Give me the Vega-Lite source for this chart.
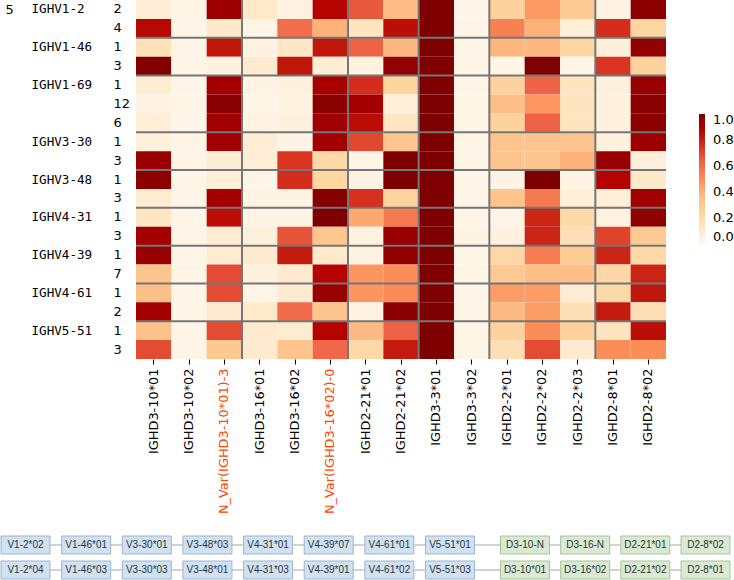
{
  "$schema": "https://vega.github.io/schema/vega-lite/v6.json",
  "width": 530,
  "height": 359,
  "autosize": "none",
  "padding": {"left": 136, "top": 0, "right": 68, "bottom": 221},
  "background": "white",
  "config": {"view": {"stroke": null}, "font": "DejaVu Sans"},
  "datasets": {
    "heat": [
      {"row": "IGHV1-2|2|1", "sep": false, "IGHD3-10*01": 0.08, "IGHD3-10*02": 0.02, "N_Var(IGHD3-10*01)-3": 0.93, "IGHD3-16*01": 0.12, "IGHD3-16*02": 0.04, "N_Var(IGHD3-16*02)-0": 0.87, "IGHD2-21*01": 0.66, "IGHD2-21*02": 0.37, "IGHD3-3*01": 1.0, "IGHD3-3*02": 0.01, "IGHD2-2*01": 0.26, "IGHD2-2*02": 0.47, "IGHD2-2*03": 0.3, "IGHD2-8*01": 0.03, "IGHD2-8*02": 0.97},
      {"row": "IGHV1-2|4|0", "sep": false, "IGHD3-10*01": 0.86, "IGHD3-10*02": 0.02, "N_Var(IGHD3-10*01)-3": 0.12, "IGHD3-16*01": 0.02, "IGHD3-16*02": 0.6, "N_Var(IGHD3-16*02)-0": 0.4, "IGHD2-21*01": 0.15, "IGHD2-21*02": 0.85, "IGHD3-3*01": 1.0, "IGHD3-3*02": 0.02, "IGHD2-2*01": 0.54, "IGHD2-2*02": 0.4, "IGHD2-2*03": 0.07, "IGHD2-8*01": 0.76, "IGHD2-8*02": 0.24},
      {"row": "IGHV1-46|1|1", "sep": true, "IGHD3-10*01": 0.17, "IGHD3-10*02": 0.02, "N_Var(IGHD3-10*01)-3": 0.83, "IGHD3-16*01": 0.04, "IGHD3-16*02": 0.13, "N_Var(IGHD3-16*02)-0": 0.83, "IGHD2-21*01": 0.63, "IGHD2-21*02": 0.39, "IGHD3-3*01": 1.0, "IGHD3-3*02": 0.02, "IGHD2-2*01": 0.39, "IGHD2-2*02": 0.39, "IGHD2-2*03": 0.24, "IGHD2-8*01": 0.07, "IGHD2-8*02": 0.95},
      {"row": "IGHV1-46|3|0", "sep": false, "IGHD3-10*01": 0.99, "IGHD3-10*02": 0.02, "N_Var(IGHD3-10*01)-3": 0.04, "IGHD3-16*01": 0.1, "IGHD3-16*02": 0.83, "N_Var(IGHD3-16*02)-0": 0.08, "IGHD2-21*01": 0.04, "IGHD2-21*02": 0.95, "IGHD3-3*01": 1.0, "IGHD3-3*02": 0.02, "IGHD2-2*01": 0.02, "IGHD2-2*02": 1.0, "IGHD2-2*03": 0.02, "IGHD2-8*01": 0.74, "IGHD2-8*02": 0.26},
      {"row": "IGHV1-69|1|1", "sep": true, "IGHD3-10*01": 0.09, "IGHD3-10*02": 0.02, "N_Var(IGHD3-10*01)-3": 0.91, "IGHD3-16*01": 0.03, "IGHD3-16*02": 0.05, "N_Var(IGHD3-16*02)-0": 0.9, "IGHD2-21*01": 0.76, "IGHD2-21*02": 0.25, "IGHD3-3*01": 1.0, "IGHD3-3*02": 0.02, "IGHD2-2*01": 0.26, "IGHD2-2*02": 0.63, "IGHD2-2*03": 0.15, "IGHD2-8*01": 0.05, "IGHD2-8*02": 0.94},
      {"row": "IGHV1-69|12|0", "sep": false, "IGHD3-10*01": 0.04, "IGHD3-10*02": 0.02, "N_Var(IGHD3-10*01)-3": 0.97, "IGHD3-16*01": 0.02, "IGHD3-16*02": 0.04, "N_Var(IGHD3-16*02)-0": 0.97, "IGHD2-21*01": 0.91, "IGHD2-21*02": 0.07, "IGHD3-3*01": 1.0, "IGHD3-3*02": 0.02, "IGHD2-2*01": 0.36, "IGHD2-2*02": 0.48, "IGHD2-2*03": 0.15, "IGHD2-8*01": 0.05, "IGHD2-8*02": 0.97},
      {"row": "IGHV1-69|6|0", "sep": false, "IGHD3-10*01": 0.08, "IGHD3-10*02": 0.02, "N_Var(IGHD3-10*01)-3": 0.92, "IGHD3-16*01": 0.03, "IGHD3-16*02": 0.05, "N_Var(IGHD3-16*02)-0": 0.92, "IGHD2-21*01": 0.85, "IGHD2-21*02": 0.14, "IGHD3-3*01": 1.0, "IGHD3-3*02": 0.02, "IGHD2-2*01": 0.26, "IGHD2-2*02": 0.63, "IGHD2-2*03": 0.15, "IGHD2-8*01": 0.05, "IGHD2-8*02": 0.97},
      {"row": "IGHV3-30|1|1", "sep": true, "IGHD3-10*01": 0.06, "IGHD3-10*02": 0.02, "N_Var(IGHD3-10*01)-3": 0.92, "IGHD3-16*01": 0.08, "IGHD3-16*02": 0.03, "N_Var(IGHD3-16*02)-0": 0.91, "IGHD2-21*01": 0.7, "IGHD2-21*02": 0.32, "IGHD3-3*01": 1.0, "IGHD3-3*02": 0.02, "IGHD2-2*01": 0.33, "IGHD2-2*02": 0.33, "IGHD2-2*03": 0.33, "IGHD2-8*01": 0.05, "IGHD2-8*02": 0.93},
      {"row": "IGHV3-30|3|0", "sep": false, "IGHD3-10*01": 0.94, "IGHD3-10*02": 0.02, "N_Var(IGHD3-10*01)-3": 0.08, "IGHD3-16*01": 0.08, "IGHD3-16*02": 0.74, "N_Var(IGHD3-16*02)-0": 0.22, "IGHD2-21*01": 0.02, "IGHD2-21*02": 1.0, "IGHD3-3*01": 1.0, "IGHD3-3*02": 0.02, "IGHD2-2*01": 0.33, "IGHD2-2*02": 0.33, "IGHD2-2*03": 0.4, "IGHD2-8*01": 0.94, "IGHD2-8*02": 0.06},
      {"row": "IGHV3-48|1|1", "sep": true, "IGHD3-10*01": 0.97, "IGHD3-10*02": 0.02, "N_Var(IGHD3-10*01)-3": 0.07, "IGHD3-16*01": 0.02, "IGHD3-16*02": 0.76, "N_Var(IGHD3-16*02)-0": 0.24, "IGHD2-21*01": 0.03, "IGHD2-21*02": 1.0, "IGHD3-3*01": 1.0, "IGHD3-3*02": 0.02, "IGHD2-2*01": 0.03, "IGHD2-2*02": 1.0, "IGHD2-2*03": 0.03, "IGHD2-8*01": 0.87, "IGHD2-8*02": 0.12},
      {"row": "IGHV3-48|3|0", "sep": false, "IGHD3-10*01": 0.09, "IGHD3-10*02": 0.02, "N_Var(IGHD3-10*01)-3": 0.91, "IGHD3-16*01": 0.03, "IGHD3-16*02": 0.03, "N_Var(IGHD3-16*02)-0": 0.98, "IGHD2-21*01": 0.75, "IGHD2-21*02": 0.25, "IGHD3-3*01": 1.0, "IGHD3-3*02": 0.02, "IGHD2-2*01": 0.33, "IGHD2-2*02": 0.56, "IGHD2-2*03": 0.07, "IGHD2-8*01": 0.07, "IGHD2-8*02": 0.92},
      {"row": "IGHV4-31|1|1", "sep": true, "IGHD3-10*01": 0.14, "IGHD3-10*02": 0.02, "N_Var(IGHD3-10*01)-3": 0.85, "IGHD3-16*01": 0.03, "IGHD3-16*02": 0.03, "N_Var(IGHD3-16*02)-0": 1.0, "IGHD2-21*01": 0.43, "IGHD2-21*02": 0.56, "IGHD3-3*01": 1.0, "IGHD3-3*02": 0.02, "IGHD2-2*01": 0.02, "IGHD2-2*02": 0.79, "IGHD2-2*03": 0.22, "IGHD2-8*01": 0.04, "IGHD2-8*02": 0.96},
      {"row": "IGHV4-31|3|0", "sep": false, "IGHD3-10*01": 0.91, "IGHD3-10*02": 0.02, "N_Var(IGHD3-10*01)-3": 0.09, "IGHD3-16*01": 0.06, "IGHD3-16*02": 0.67, "N_Var(IGHD3-16*02)-0": 0.32, "IGHD2-21*01": 0.04, "IGHD2-21*02": 0.94, "IGHD3-3*01": 1.0, "IGHD3-3*02": 0.03, "IGHD2-2*01": 0.05, "IGHD2-2*02": 0.79, "IGHD2-2*03": 0.18, "IGHD2-8*01": 0.71, "IGHD2-8*02": 0.3},
      {"row": "IGHV4-39|1|1", "sep": true, "IGHD3-10*01": 0.94, "IGHD3-10*02": 0.02, "N_Var(IGHD3-10*01)-3": 0.09, "IGHD3-16*01": 0.1, "IGHD3-16*02": 0.82, "N_Var(IGHD3-16*02)-0": 0.12, "IGHD2-21*01": 0.04, "IGHD2-21*02": 0.95, "IGHD3-3*01": 1.0, "IGHD3-3*02": 0.02, "IGHD2-2*01": 0.23, "IGHD2-2*02": 0.55, "IGHD2-2*03": 0.29, "IGHD2-8*01": 0.79, "IGHD2-8*02": 0.22},
      {"row": "IGHV4-39|7|0", "sep": false, "IGHD3-10*01": 0.33, "IGHD3-10*02": 0.02, "N_Var(IGHD3-10*01)-3": 0.69, "IGHD3-16*01": 0.05, "IGHD3-16*02": 0.1, "N_Var(IGHD3-16*02)-0": 0.87, "IGHD2-21*01": 0.48, "IGHD2-21*02": 0.5, "IGHD3-3*01": 1.0, "IGHD3-3*02": 0.02, "IGHD2-2*01": 0.31, "IGHD2-2*02": 0.36, "IGHD2-2*03": 0.36, "IGHD2-8*01": 0.23, "IGHD2-8*02": 0.79},
      {"row": "IGHV4-61|1|1", "sep": true, "IGHD3-10*01": 0.35, "IGHD3-10*02": 0.02, "N_Var(IGHD3-10*01)-3": 0.69, "IGHD3-16*01": 0.02, "IGHD3-16*02": 0.1, "N_Var(IGHD3-16*02)-0": 0.94, "IGHD2-21*01": 0.48, "IGHD2-21*02": 0.51, "IGHD3-3*01": 1.0, "IGHD3-3*02": 0.02, "IGHD2-2*01": 0.46, "IGHD2-2*02": 0.46, "IGHD2-2*03": 0.09, "IGHD2-8*01": 0.22, "IGHD2-8*02": 0.83},
      {"row": "IGHV4-61|2|0", "sep": false, "IGHD3-10*01": 0.91, "IGHD3-10*02": 0.02, "N_Var(IGHD3-10*01)-3": 0.1, "IGHD3-16*01": 0.12, "IGHD3-16*02": 0.61, "N_Var(IGHD3-16*02)-0": 0.33, "IGHD2-21*01": 0.04, "IGHD2-21*02": 0.97, "IGHD3-3*01": 1.0, "IGHD3-3*02": 0.02, "IGHD2-2*01": 0.38, "IGHD2-2*02": 0.46, "IGHD2-2*03": 0.18, "IGHD2-8*01": 0.82, "IGHD2-8*02": 0.18},
      {"row": "IGHV5-51|1|1", "sep": true, "IGHD3-10*01": 0.34, "IGHD3-10*02": 0.02, "N_Var(IGHD3-10*01)-3": 0.69, "IGHD3-16*01": 0.1, "IGHD3-16*02": 0.09, "N_Var(IGHD3-16*02)-0": 0.87, "IGHD2-21*01": 0.38, "IGHD2-21*02": 0.63, "IGHD3-3*01": 1.0, "IGHD3-3*02": 0.02, "IGHD2-2*01": 0.26, "IGHD2-2*02": 0.5, "IGHD2-2*03": 0.26, "IGHD2-8*01": 0.15, "IGHD2-8*02": 0.85},
      {"row": "IGHV5-51|3|0", "sep": false, "IGHD3-10*01": 0.69, "IGHD3-10*02": 0.02, "N_Var(IGHD3-10*01)-3": 0.31, "IGHD3-16*01": 0.1, "IGHD3-16*02": 0.33, "N_Var(IGHD3-16*02)-0": 0.62, "IGHD2-21*01": 0.22, "IGHD2-21*02": 0.82, "IGHD3-3*01": 1.0, "IGHD3-3*02": 0.02, "IGHD2-2*01": 0.18, "IGHD2-2*02": 0.69, "IGHD2-2*03": 0.1, "IGHD2-8*01": 0.5, "IGHD2-8*02": 0.5}
    ],
    "genes": [
      {"label": "V1-2*02", "chain": 1, "pos": 0, "type": "V"},
      {"label": "V1-46*01", "chain": 1, "pos": 1, "type": "V"},
      {"label": "V3-30*01", "chain": 1, "pos": 2, "type": "V"},
      {"label": "V3-48*03", "chain": 1, "pos": 3, "type": "V"},
      {"label": "V4-31*01", "chain": 1, "pos": 4, "type": "V"},
      {"label": "V4-39*07", "chain": 1, "pos": 5, "type": "V"},
      {"label": "V4-61*01", "chain": 1, "pos": 6, "type": "V"},
      {"label": "V5-51*01", "chain": 1, "pos": 7, "type": "V"},
      {"label": "D3-10-N", "chain": 1, "pos": 8, "type": "D"},
      {"label": "D3-16-N", "chain": 1, "pos": 9, "type": "D"},
      {"label": "D2-21*01", "chain": 1, "pos": 10, "type": "D"},
      {"label": "D2-8*02", "chain": 1, "pos": 11, "type": "D"},
      {"label": "V1-2*04", "chain": 2, "pos": 0, "type": "V"},
      {"label": "V1-46*03", "chain": 2, "pos": 1, "type": "V"},
      {"label": "V3-30*03", "chain": 2, "pos": 2, "type": "V"},
      {"label": "V3-48*01", "chain": 2, "pos": 3, "type": "V"},
      {"label": "V4-31*03", "chain": 2, "pos": 4, "type": "V"},
      {"label": "V4-39*01", "chain": 2, "pos": 5, "type": "V"},
      {"label": "V4-61*02", "chain": 2, "pos": 6, "type": "V"},
      {"label": "V5-51*03", "chain": 2, "pos": 7, "type": "V"},
      {"label": "D3-10*01", "chain": 2, "pos": 8, "type": "D"},
      {"label": "D3-16*02", "chain": 2, "pos": 9, "type": "D"},
      {"label": "D2-21*02", "chain": 2, "pos": 10, "type": "D"},
      {"label": "D2-8*01", "chain": 2, "pos": 11, "type": "D"}
    ]
  },
  "layer": [
    {
      "data": {"name": "heat"},
      "layer": [
        {
          "transform": [{"fold": ["IGHD3-10*01", "IGHD3-10*02", "N_Var(IGHD3-10*01)-3", "IGHD3-16*01", "IGHD3-16*02", "N_Var(IGHD3-16*02)-0", "IGHD2-21*01", "IGHD2-21*02", "IGHD3-3*01", "IGHD3-3*02", "IGHD2-2*01", "IGHD2-2*02", "IGHD2-2*03", "IGHD2-8*01", "IGHD2-8*02"], "as": ["col", "value"]}],
          "mark": {"type": "rect"},
          "encoding": {
            "x": {
              "field": "col", "type": "nominal",
              "scale": {"domain": ["IGHD3-10*01", "IGHD3-10*02", "N_Var(IGHD3-10*01)-3", "IGHD3-16*01", "IGHD3-16*02", "N_Var(IGHD3-16*02)-0", "IGHD2-21*01", "IGHD2-21*02", "IGHD3-3*01", "IGHD3-3*02", "IGHD2-2*01", "IGHD2-2*02", "IGHD2-2*03", "IGHD2-8*01", "IGHD2-8*02"]},
              "axis": {"orient": "bottom", "title": null, "labelAngle": -90, "labelAlign": "right", "labelBaseline": "middle", "labelFont": "DejaVu Sans", "labelFontSize": 12.9, "labelColor": {"condition": {"test": "indexof(datum.value,'N_Var')==0", "value": "#ff4500"}, "value": "black"}, "ticks": true, "tickColor": "black", "tickSize": 5, "labelPadding": 4, "domain": false, "labelOverlap": false, "labelLimit": 300}
            },
            "y": {
              "field": "row", "type": "nominal", "sort": null,
              "axis": {"orient": "left", "title": null, "ticks": false, "tickSize": 0, "domain": false, "labelAlign": "left", "labelBaseline": "middle", "labelPadding": 23, "labelFont": "DejaVu Sans", "labelFontSize": 13, "labelColor": "black", "labelOverlap": false, "labelExpr": "split(datum.value,'|')[1]"}
            },
            "color": {
              "field": "value", "type": "quantitative",
              "scale": {"type": "linear", "domain": [0, 0.125, 0.25, 0.375, 0.5, 0.625, 0.75, 0.875, 1], "range": ["#fff7ec", "#fee8c8", "#fdd49e", "#fdbb84", "#fc8d59", "#ef6548", "#d7301f", "#b30000", "#7f0000"]},
              "legend": {"title": null, "orient": "none", "legendX": 563, "legendY": 114, "direction": "vertical", "gradientLength": 130, "gradientThickness": 6, "gradientStrokeWidth": 0, "values": [0, 0.2, 0.4, 0.6, 0.8, 1], "format": ".1f", "labelFont": "DejaVu Sans", "labelFontSize": 13, "labelColor": "black", "labelOffset": 8}
            }
          }
        },
        {
          "mark": {"type": "rule", "color": "#767676", "strokeWidth": 2},
          "encoding": {
            "y": {
              "field": "row", "type": "nominal", "sort": null, "bandPosition": 0,
              "axis": {"orient": "left", "title": "5", "titleAngle": 0, "titleX": -131, "titleY": 9.5, "titleAlign": "left", "titleBaseline": "middle", "titleFont": "DejaVu Sans", "titleFontSize": 13, "titleFontWeight": "normal", "titleColor": "black", "ticks": false, "tickSize": 0, "domain": false, "labelAlign": "left", "labelBaseline": "middle", "labelPadding": 105, "labelFont": "DejaVu Sans Mono", "labelFontSize": 12.6, "labelColor": "black", "labelOverlap": false, "labelExpr": "split(datum.value,'|')[2]=='1' ? split(datum.value,'|')[0] : ''"}
            },
            "strokeOpacity": {"condition": {"test": "datum.sep", "value": 1}, "value": 0}
          }
        },
        {
          "data": {"values": [{"col": "IGHD3-16*01"}, {"col": "IGHD2-21*01"}, {"col": "IGHD3-3*01"}, {"col": "IGHD2-2*01"}, {"col": "IGHD2-8*01"}]},
          "mark": {"type": "rule", "color": "#767676", "strokeWidth": 2},
          "encoding": {"x": {"field": "col", "type": "nominal", "bandPosition": 0, "axis": null}}
        }
      ],
      "resolve": {"axis": {"x": "independent", "y": "independent"}}
    },
    {
      "data": {"name": "genes"},
      "encoding": {
        "x": {"field": "pos", "type": "quantitative", "scale": {"type": "linear", "domain": [0, 7, 8, 11], "range": [-110.5, 314, 389, 569.5], "zero": false, "nice": false}, "axis": null},
        "y": {"field": "chain", "type": "quantitative", "scale": {"type": "linear", "domain": [1, 2], "range": [545, 570], "zero": false, "nice": false}, "axis": null}
      },
      "layer": [
        {"mark": {"type": "line", "color": "#a6a6a6", "strokeWidth": 1}, "encoding": {"detail": {"field": "chain", "type": "nominal"}}},
        {"transform": [{"filter": "datum.type=='V'"}], "mark": {"type": "rect", "width": 49, "height": 18, "fill": "#cfe2f3", "stroke": "#9fb5cc", "strokeWidth": 1}, "encoding": {}},
        {"transform": [{"filter": "datum.type=='D'"}], "mark": {"type": "rect", "width": 49, "height": 18, "fill": "#d9ead3", "stroke": "#a7c39c", "strokeWidth": 1}, "encoding": {}},
        {"mark": {"type": "text", "font": "Liberation Sans", "fontSize": 10, "color": "#333333"}, "encoding": {"text": {"field": "label"}}}
      ]
    }
  ],
  "resolve": {"scale": {"x": "independent", "y": "independent", "color": "independent"}, "axis": {"x": "independent", "y": "independent"}}
}
